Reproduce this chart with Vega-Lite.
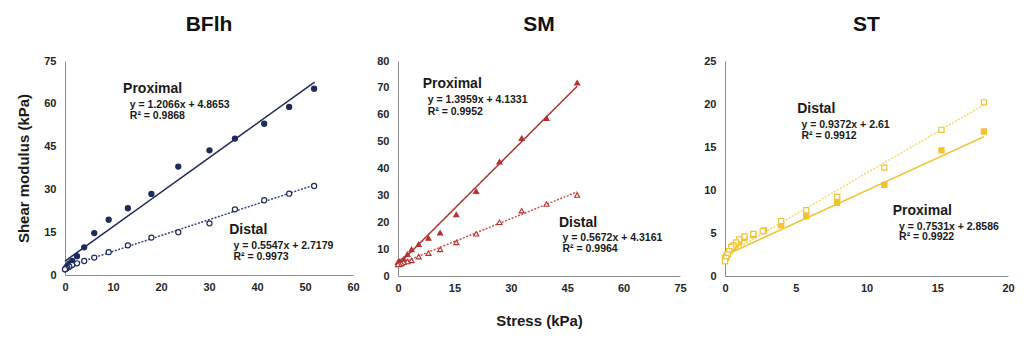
{
  "$schema": "https://vega.github.io/schema/vega-lite/v6.json",
  "background": "white",
  "padding": {"left": 16, "top": 14, "right": 5, "bottom": 5},
  "spacing": 16,
  "resolve": {"scale": {"color": "independent", "fill": "independent", "strokeDash": "independent", "x": "independent", "y": "independent"}},
  "config": {
    "view": {"stroke": null},
    "font": "Liberation Sans",
    "axis": {"grid": false, "ticks": false, "labelFlush": false, "domainColor": "#8c8c8c", "domainWidth": 1, "labelFont": "Liberation Sans", "labelFontWeight": "bold", "labelFontSize": 11, "labelColor": "#262626", "labelPadding": 9, "titleFont": "Liberation Sans", "titleFontWeight": "bold", "titleFontSize": 15, "titleColor": "#1a1a1a"},
    "axisX": {"labelPadding": 6, "labelFlush": false},
    "title": {"font": "Liberation Sans", "fontSize": 21, "fontWeight": "bold", "color": "#111111", "offset": 20}
  },
  "datasets": {
    "bf_pts": [
      {"x": 51.9, "y": 65.3, "site": "Proximal"}, {"x": 46.7, "y": 58.9, "site": "Proximal"}, {"x": 41.5, "y": 53.0, "site": "Proximal"}, {"x": 35.4, "y": 47.8, "site": "Proximal"}, {"x": 30.1, "y": 43.7, "site": "Proximal"}, {"x": 23.6, "y": 38.0, "site": "Proximal"}, {"x": 18.0, "y": 28.4, "site": "Proximal"}, {"x": 13.1, "y": 23.4, "site": "Proximal"}, {"x": 9.1, "y": 19.4, "site": "Proximal"}, {"x": 6.1, "y": 14.7, "site": "Proximal"}, {"x": 4.0, "y": 9.7, "site": "Proximal"}, {"x": 2.5, "y": 6.6, "site": "Proximal"}, {"x": 1.5, "y": 4.9, "site": "Proximal"}, {"x": 0.9, "y": 4.1, "site": "Proximal"}, {"x": 0.5, "y": 3.2, "site": "Proximal"}, {"x": 0.2, "y": 2.5, "site": "Proximal"}, {"x": 0.0, "y": 2.0, "site": "Proximal"},
      {"x": 51.9, "y": 31.2, "site": "Distal"}, {"x": 46.7, "y": 28.5, "site": "Distal"}, {"x": 41.5, "y": 26.2, "site": "Distal"}, {"x": 35.4, "y": 23.0, "site": "Distal"}, {"x": 30.1, "y": 18.1, "site": "Distal"}, {"x": 23.6, "y": 15.0, "site": "Distal"}, {"x": 18.0, "y": 13.1, "site": "Distal"}, {"x": 13.1, "y": 10.4, "site": "Distal"}, {"x": 9.1, "y": 8.0, "site": "Distal"}, {"x": 6.1, "y": 6.1, "site": "Distal"}, {"x": 4.0, "y": 4.9, "site": "Distal"}, {"x": 2.5, "y": 4.1, "site": "Distal"}, {"x": 1.5, "y": 3.5, "site": "Distal"}, {"x": 0.9, "y": 2.9, "site": "Distal"}, {"x": 0.5, "y": 2.5, "site": "Distal"}, {"x": 0.2, "y": 2.2, "site": "Distal"}, {"x": 0.0, "y": 2.0, "site": "Distal"}
    ],
    "bf_lines": [
      {"x": 0, "y": 4.87, "site": "Proximal"}, {"x": 52, "y": 67.6, "site": "Proximal"},
      {"x": 0, "y": 2.72, "site": "Distal"}, {"x": 52, "y": 31.56, "site": "Distal"}
    ],
    "bf_names": [
      {"x": 12.1, "y": 65.3, "label": "Proximal"}, {"x": 34.2, "y": 15.6, "label": "Distal"}
    ],
    "bf_eq": [
      {"x": 13.5, "y": 59.5, "label": "y = 1.2066x + 4.8653"}, {"x": 13.5, "y": 55.6, "label": "R² = 0.9868"},
      {"x": 35.1, "y": 10.2, "label": "y = 0.5547x + 2.7179"}, {"x": 35.1, "y": 6.3, "label": "R² = 0.9973"}
    ],
    "sm_pts": [
      {"x": 47.65, "y": 71.9, "site": "Proximal"}, {"x": 39.5, "y": 58.7, "site": "Proximal"}, {"x": 32.9, "y": 51.3, "site": "Proximal"}, {"x": 27.0, "y": 42.5, "site": "Proximal"}, {"x": 20.8, "y": 31.5, "site": "Proximal"}, {"x": 15.5, "y": 22.9, "site": "Proximal"}, {"x": 11.2, "y": 16.1, "site": "Proximal"}, {"x": 8.1, "y": 14.1, "site": "Proximal"}, {"x": 5.5, "y": 11.8, "site": "Proximal"}, {"x": 3.6, "y": 9.9, "site": "Proximal"}, {"x": 2.5, "y": 8.1, "site": "Proximal"}, {"x": 1.5, "y": 6.3, "site": "Proximal"}, {"x": 0.9, "y": 5.6, "site": "Proximal"}, {"x": 0.4, "y": 5.4, "site": "Proximal"}, {"x": 0.2, "y": 5.3, "site": "Proximal"}, {"x": 0.0, "y": 5.1, "site": "Proximal"},
      {"x": 47.65, "y": 30.1, "site": "Distal"}, {"x": 39.5, "y": 26.8, "site": "Distal"}, {"x": 32.9, "y": 24.3, "site": "Distal"}, {"x": 27.0, "y": 20.0, "site": "Distal"}, {"x": 20.8, "y": 15.7, "site": "Distal"}, {"x": 15.5, "y": 12.5, "site": "Distal"}, {"x": 11.2, "y": 9.9, "site": "Distal"}, {"x": 8.1, "y": 8.5, "site": "Distal"}, {"x": 5.5, "y": 7.2, "site": "Distal"}, {"x": 3.6, "y": 5.8, "site": "Distal"}, {"x": 2.5, "y": 5.4, "site": "Distal"}, {"x": 1.5, "y": 5.1, "site": "Distal"}, {"x": 0.9, "y": 4.7, "site": "Distal"}, {"x": 0.4, "y": 4.4, "site": "Distal"}, {"x": 0.0, "y": 4.3, "site": "Distal"}
    ],
    "sm_lines": [
      {"x": 0, "y": 4.13, "site": "Proximal"}, {"x": 47.65, "y": 70.6, "site": "Proximal"},
      {"x": 0, "y": 4.32, "site": "Distal"}, {"x": 47.65, "y": 31.3, "site": "Distal"}
    ],
    "sm_names": [
      {"x": 6.55, "y": 71.3, "label": "Proximal"}, {"x": 42.8, "y": 19.9, "label": "Distal"}
    ],
    "sm_eq": [
      {"x": 7.9, "y": 65.4, "label": "y = 1.3959x + 4.1331"}, {"x": 7.9, "y": 61.1, "label": "R² = 0.9952"},
      {"x": 43.75, "y": 14.05, "label": "y = 0.5672x + 4.3161"}, {"x": 43.75, "y": 9.9, "label": "R² = 0.9964"}
    ],
    "st_pts": [
      {"x": 18.3, "y": 16.8, "site": "Proximal"}, {"x": 15.3, "y": 14.6, "site": "Proximal"}, {"x": 11.26, "y": 10.6, "site": "Proximal"}, {"x": 7.93, "y": 8.5, "site": "Proximal"}, {"x": 5.74, "y": 6.95, "site": "Proximal"}, {"x": 3.97, "y": 5.9, "site": "Proximal"}, {"x": 2.76, "y": 5.3, "site": "Proximal"}, {"x": 2.0, "y": 4.75, "site": "Proximal"}, {"x": 1.37, "y": 4.4, "site": "Proximal"}, {"x": 1.0, "y": 3.95, "site": "Proximal"}, {"x": 0.78, "y": 3.7, "site": "Proximal"}, {"x": 0.6, "y": 3.4, "site": "Proximal"}, {"x": 0.45, "y": 3.2, "site": "Proximal"}, {"x": 0.3, "y": 2.9, "site": "Proximal"}, {"x": 0.19, "y": 2.6, "site": "Proximal"}, {"x": 0.09, "y": 2.3, "site": "Proximal"}, {"x": 0.0, "y": 2.1, "site": "Proximal"},
      {"x": 18.3, "y": 20.2, "site": "Distal"}, {"x": 15.3, "y": 17.0, "site": "Distal"}, {"x": 11.26, "y": 12.6, "site": "Distal"}, {"x": 7.93, "y": 9.2, "site": "Distal"}, {"x": 5.74, "y": 7.65, "site": "Distal"}, {"x": 3.97, "y": 6.4, "site": "Distal"}, {"x": 2.67, "y": 5.2, "site": "Distal"}, {"x": 2.0, "y": 4.9, "site": "Distal"}, {"x": 1.37, "y": 4.6, "site": "Distal"}, {"x": 1.0, "y": 4.25, "site": "Distal"}, {"x": 0.78, "y": 3.9, "site": "Distal"}, {"x": 0.6, "y": 3.55, "site": "Distal"}, {"x": 0.45, "y": 3.4, "site": "Distal"}, {"x": 0.3, "y": 2.9, "site": "Distal"}, {"x": 0.19, "y": 2.5, "site": "Distal"}, {"x": 0.09, "y": 2.1, "site": "Distal"}, {"x": 0.0, "y": 1.7, "site": "Distal"}
    ],
    "st_lines": [
      {"x": 0, "y": 2.4, "site": "Proximal"}, {"x": 18.3, "y": 16.2, "site": "Proximal"},
      {"x": 0, "y": 2.4, "site": "Distal"}, {"x": 18.3, "y": 19.9, "site": "Distal"}
    ],
    "st_names": [
      {"x": 5.1, "y": 19.4, "label": "Distal"}, {"x": 11.85, "y": 7.6, "label": "Proximal"}
    ],
    "st_eq": [
      {"x": 5.4, "y": 17.6, "label": "y = 0.9372x + 2.61"}, {"x": 5.4, "y": 16.3, "label": "R² = 0.9912"},
      {"x": 12.3, "y": 5.75, "label": "y = 0.7531x + 2.8586"}, {"x": 12.3, "y": 4.5, "label": "R² = 0.9922"}
    ]
  },
  "hconcat": [
    {
      "title": "BFlh",
      "width": 288,
      "height": 214,
      "encoding": {
        "x": {"field": "x", "type": "quantitative", "scale": {"domain": [0, 60], "nice": false, "zero": true}, "axis": {"values": [0, 10, 20, 30, 40, 50, 60], "title": null}},
        "y": {"field": "y", "type": "quantitative", "scale": {"domain": [0, 75], "nice": false, "zero": true}, "axis": {"values": [0, 15, 30, 45, 60, 75], "title": "Shear modulus (kPa)", "titlePadding": 12}}
      },
      "layer": [
        {
          "data": {"name": "bf_lines"},
          "mark": {"type": "line", "strokeWidth": 1.5},
          "encoding": {
            "detail": {"field": "site"},
            "color": {"field": "site", "type": "nominal", "scale": {"domain": ["Proximal", "Distal"], "range": ["#1f2a5e", "#34447f"]}, "legend": null},
            "strokeDash": {"field": "site", "type": "nominal", "scale": {"domain": ["Proximal", "Distal"], "range": [[1, 0], [2, 1.5]]}, "legend": null}
          }
        },
        {
          "data": {"name": "bf_pts"},
          "mark": {"type": "point", "shape": "circle", "size": 26, "stroke": "#1f2a5e", "strokeWidth": 1.2, "opacity": 1},
          "encoding": {
            "fill": {"field": "site", "type": "nominal", "scale": {"domain": ["Proximal", "Distal"], "range": ["#1f2a5e", "#ffffff"]}, "legend": null}
          }
        },
        {
          "data": {"name": "bf_names"},
          "mark": {"type": "text", "align": "left", "baseline": "middle", "fontSize": 14, "fontWeight": "bold", "color": "#1a1a1a"},
          "encoding": {"text": {"field": "label"}}
        },
        {
          "data": {"name": "bf_eq"},
          "mark": {"type": "text", "align": "left", "baseline": "middle", "fontSize": 10.5, "fontWeight": "bold", "color": "#1a1a1a"},
          "encoding": {"text": {"field": "label"}}
        }
      ]
    },
    {
      "title": "SM",
      "width": 282,
      "height": 215,
      "encoding": {
        "x": {"field": "x", "type": "quantitative", "scale": {"domain": [0, 75], "nice": false, "zero": true}, "axis": {"values": [0, 15, 30, 45, 60, 75], "title": "Stress (kPa)", "titlePadding": 20}},
        "y": {"field": "y", "type": "quantitative", "scale": {"domain": [0, 80], "nice": false, "zero": true}, "axis": {"values": [0, 10, 20, 30, 40, 50, 60, 70, 80], "title": null}}
      },
      "layer": [
        {
          "data": {"name": "sm_lines"},
          "mark": {"type": "line", "strokeWidth": 1.5},
          "encoding": {
            "detail": {"field": "site"},
            "color": {"field": "site", "type": "nominal", "scale": {"domain": ["Proximal", "Distal"], "range": ["#b8312c", "#d2524c"]}, "legend": null},
            "strokeDash": {"field": "site", "type": "nominal", "scale": {"domain": ["Proximal", "Distal"], "range": [[1, 0], [2, 1.5]]}, "legend": null}
          }
        },
        {
          "data": {"name": "sm_pts"},
          "mark": {"type": "point", "shape": "triangle-up", "size": 26, "stroke": "#b8312c", "strokeWidth": 1.1, "opacity": 1},
          "encoding": {
            "fill": {"field": "site", "type": "nominal", "scale": {"domain": ["Proximal", "Distal"], "range": ["#b8312c", "#ffffff"]}, "legend": null}
          }
        },
        {
          "data": {"name": "sm_names"},
          "mark": {"type": "text", "align": "left", "baseline": "middle", "fontSize": 14, "fontWeight": "bold", "color": "#1a1a1a"},
          "encoding": {"text": {"field": "label"}}
        },
        {
          "data": {"name": "sm_eq"},
          "mark": {"type": "text", "align": "left", "baseline": "middle", "fontSize": 10.5, "fontWeight": "bold", "color": "#1a1a1a"},
          "encoding": {"text": {"field": "label"}}
        }
      ]
    },
    {
      "title": "ST",
      "width": 283,
      "height": 215,
      "encoding": {
        "x": {"field": "x", "type": "quantitative", "scale": {"domain": [0, 20], "nice": false, "zero": true}, "axis": {"values": [0, 5, 10, 15, 20], "title": null}},
        "y": {"field": "y", "type": "quantitative", "scale": {"domain": [0, 25], "nice": false, "zero": true}, "axis": {"values": [0, 5, 10, 15, 20, 25], "title": null}}
      },
      "layer": [
        {
          "data": {"name": "st_lines"},
          "mark": {"type": "line", "strokeWidth": 1.5},
          "encoding": {
            "detail": {"field": "site"},
            "color": {"field": "site", "type": "nominal", "scale": {"domain": ["Proximal", "Distal"], "range": ["#f2c232", "#f6d76e"]}, "legend": null},
            "strokeDash": {"field": "site", "type": "nominal", "scale": {"domain": ["Proximal", "Distal"], "range": [[1, 0], [2, 1.5]]}, "legend": null}
          }
        },
        {
          "data": {"name": "st_pts"},
          "mark": {"type": "point", "shape": "square", "size": 26, "stroke": "#f2c232", "strokeWidth": 1.2, "opacity": 1},
          "encoding": {
            "fill": {"field": "site", "type": "nominal", "scale": {"domain": ["Proximal", "Distal"], "range": ["#f2c232", "#ffffff"]}, "legend": null}
          }
        },
        {
          "data": {"name": "st_names"},
          "mark": {"type": "text", "align": "left", "baseline": "middle", "fontSize": 14, "fontWeight": "bold", "color": "#1a1a1a"},
          "encoding": {"text": {"field": "label"}}
        },
        {
          "data": {"name": "st_eq"},
          "mark": {"type": "text", "align": "left", "baseline": "middle", "fontSize": 10.5, "fontWeight": "bold", "color": "#1a1a1a"},
          "encoding": {"text": {"field": "label"}}
        }
      ]
    }
  ]
}
